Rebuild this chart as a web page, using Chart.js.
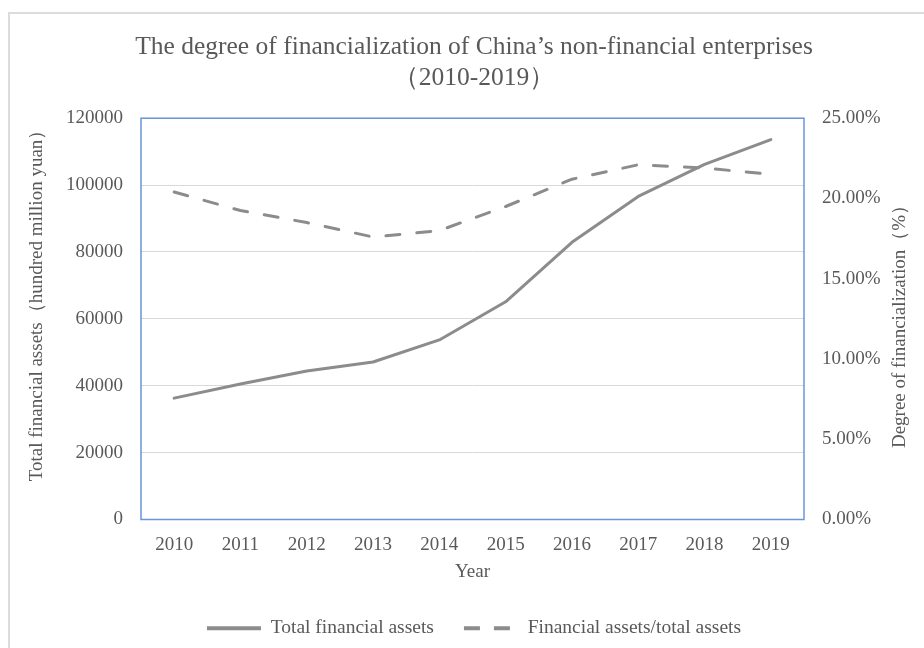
<!DOCTYPE html>
<html>
<head>
<meta charset="utf-8">
<script src="https://cdn.jsdelivr.net/npm/chart.js@4.4.1/dist/chart.umd.min.js"></script>
<style>
    html, body { margin: 0; padding: 0; background: #ffffff; }
    #wrap { position: relative; width: 924px; height: 648px; overflow: hidden; }
    #frame {
        position: absolute; left: 8px; top: 12px; width: 940px; height: 660px;
        border: 2px solid #dcdcdc; box-sizing: border-box;
    }
    #chart { position: absolute; left: 0; top: 0; }
</style>
</head>
<body>
<div id="wrap">
    <div id="frame"></div>
    <canvas id="chart" width="924" height="648"></canvas>
</div>
<script>
const years = ['2010', '2011', '2012', '2013', '2014', '2015', '2016', '2017', '2018', '2019'];
const totalFinancialAssets = [36300, 40500, 44400, 47100, 53700, 65100, 82900, 96600, 106200, 113600];
const financialRatio = [20.4, 19.25, 18.5, 17.6, 18.0, 19.5, 21.2, 22.1, 21.9, 21.5];

const textColor = '#595959';
const lineColor = '#8c8c8c';
const serif = "'Liberation Serif', 'Times New Roman', serif";

// axis titles read bottom-to-top on both sides, so draw them by hand
const sideTitles = {
    id: 'sideTitles',
    afterDraw(chart) {
        const { ctx } = chart;
        const drawRotated = (text, x, y) => {
            ctx.save();
            ctx.fillStyle = textColor;
            ctx.font = `19px ${serif}`;
            ctx.textAlign = 'center';
            ctx.textBaseline = 'middle';
            ctx.translate(x, y);
            ctx.rotate(-Math.PI / 2);
            ctx.fillText(text, 0, 0);
            ctx.restore();
        };
        drawRotated('Total financial assets（hundred million yuan）', 37, 301);
        drawRotated('Degree of financialization（%）', 900, 322);
    },
    beforeDatasetsDraw(chart) {
        const { ctx, chartArea } = chart;
        ctx.save();
        ctx.strokeStyle = '#6a95dc';
        ctx.lineWidth = 1.5;
        ctx.strokeRect(chartArea.left, chartArea.top, chartArea.right - chartArea.left, chartArea.bottom - chartArea.top);
        ctx.restore();
    },
};

new Chart(document.getElementById('chart'), {
    type: 'line',
    data: {
        labels: years,
        datasets: [
            {
                label: 'Total financial assets',
                data: totalFinancialAssets,
                yAxisID: 'y',
                borderColor: lineColor,
                backgroundColor: lineColor,
                borderWidth: 3,
                pointRadius: 0,
                tension: 0,
                borderCapStyle: 'round',
                borderJoinStyle: 'round',
            },
            {
                label: 'Financial assets/total assets',
                data: financialRatio,
                yAxisID: 'y1',
                borderColor: lineColor,
                backgroundColor: lineColor,
                borderWidth: 3,
                borderDash: [14, 17],
                borderCapStyle: 'round',
                pointRadius: 0,
                tension: 0,
            },
        ],
    },
    options: {
        responsive: false,
        animation: false,
        layout: {
            padding: { left: 24 },
        },
        plugins: {
            title: {
                display: true,
                text: ['The degree of financialization of China’s non-financial enterprises', '（2010-2019）'],
                color: textColor,
                font: { family: serif, size: 25.5, weight: 'normal', lineHeight: 1.22 },
                padding: { top: 32, bottom: 24 },
            },
            legend: {
                position: 'bottom',
                labels: {
                    color: textColor,
                    font: { family: serif, size: 19.5 },
                    usePointStyle: true,
                    pointStyle: 'line',
                    pointStyleWidth: 54,
                    padding: 30,
                    generateLabels: (chart) => chart.data.datasets.map((ds, i) => ({
                        text: ds.label,
                        fillStyle: ds.borderColor,
                        strokeStyle: ds.borderColor,
                        lineWidth: 4,
                        lineDash: i === 1 ? [16, 14] : [],
                        lineCap: 'butt',
                        pointStyle: 'line',
                        fontColor: textColor,
                        datasetIndex: i,
                    })),
                },
            },
            tooltip: { enabled: false },
        },
        scales: {
            x: {
                offset: true,
                grid: { display: false },
                border: { display: false },
                ticks: {
                    color: textColor,
                    font: { family: serif, size: 19, lineHeight: 1 },
                    padding: 8,
                    maxRotation: 0,
                },
                title: {
                    display: true,
                    text: 'Year',
                    color: textColor,
                    font: { family: serif, size: 19, lineHeight: 1 },
                    padding: { top: 0, bottom: 7 },
                },
            },
            y: {
                position: 'left',
                min: 0,
                max: 120000,
                grid: { color: '#d9d9d9', lineWidth: 1, drawTicks: false },
                border: { display: false },
                ticks: {
                    stepSize: 20000,
                    color: textColor,
                    font: { family: serif, size: 19 },
                    padding: 18,
                    callback: (value) => String(value),
                },
                afterFit: (scale) => { scale.width = 117; },
            },
            y1: {
                position: 'right',
                min: 0,
                max: 25,
                grid: { drawOnChartArea: false, drawTicks: false },
                border: { display: false },
                ticks: {
                    stepSize: 5,
                    color: textColor,
                    font: { family: serif, size: 19 },
                    padding: 18,
                    callback: (value) => `${value.toFixed(2)}%`,
                },
                afterFit: (scale) => { scale.width = 120; },
            },
        },
    },
    plugins: [sideTitles],
});
</script>
</body>
</html>
